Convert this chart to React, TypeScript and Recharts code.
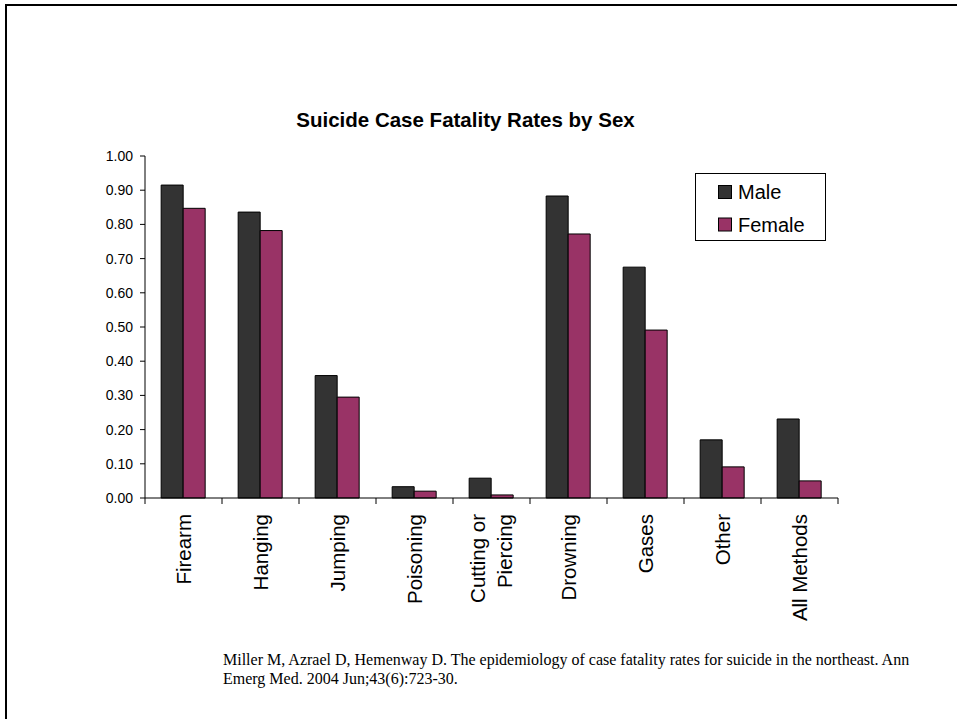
import React from 'react';
import { BarChart, Bar, XAxis, YAxis, Legend } from 'recharts';

const categories = [
  'Firearm',
  'Hanging',
  'Jumping',
  'Poisoning',
  'Cutting or\nPiercing',
  'Drowning',
  'Gases',
  'Other',
  'All Methods',
];
const maleRates = [0.915, 0.836, 0.358, 0.033, 0.058, 0.883, 0.675, 0.17, 0.231];
const femaleRates = [0.847, 0.782, 0.295, 0.02, 0.009, 0.772, 0.491, 0.091, 0.05];
const yTicks = [0, 0.1, 0.2, 0.3, 0.4, 0.5, 0.6, 0.7, 0.8, 0.9, 1.0];
const seriesNames = ['Male', 'Female'];
const title = 'Suicide Case Fatality Rates by Sex';
const citationLines = [
  'Miller M, Azrael D, Hemenway D. The epidemiology of case fatality rates for suicide in the northeast. Ann',
  'Emerg Med. 2004 Jun;43(6):723-30.',
];

const data = categories.map((c, i) => ({
  category: c,
  male: maleRates[i],
  female: femaleRates[i],
}));

const SANS = '"Liberation Sans", Arial, Helvetica, sans-serif';
const SERIF = '"Liberation Serif", "Times New Roman", serif';

const XTick = (props: any) => {
  const { x, y, payload, index } = props;
  const half = payload && payload.offset > 0 ? payload.offset : 38.5;
  const lines = String(payload.value).split('\n');
  const n = lines.length;
  return (
    <g>
      <line x1={x - half} y1={y} x2={x - half} y2={y + 6} stroke="#000" strokeWidth={1} />
      {index === categories.length - 1 && (
        <line x1={x + half} y1={y} x2={x + half} y2={y + 6} stroke="#000" strokeWidth={1} />
      )}
      <text
        transform={`translate(${x},${y + 16}) rotate(-90)`}
        textAnchor="end"
        fontSize={20.5}
        fill="#000"
        fontFamily={SANS}
      >
        {lines.map((l, i) => (
          <tspan key={i} x={0} y={(i - (n - 1) / 2) * 27} dy="0.36em">
            {l}
          </tspan>
        ))}
      </text>
    </g>
  );
};

const renderLegend = (props: any) => {
  const payload = [...(props.payload || [])].sort(
    (a: any, b: any) => seriesNames.indexOf(a.value) - seriesNames.indexOf(b.value)
  );
  return (
    <svg width={131} height={69} style={{ display: 'block' }}>
      <rect x={0.5} y={0.5} width={130} height={67} fill="#fff" stroke="#000" strokeWidth={1} />
      {payload.map((p: any, i: number) => (
        <g key={i}>
          <rect
            x={23.5}
            y={12.5 + i * 32.5}
            width={13}
            height={13}
            fill={p.color}
            stroke="#000"
            strokeWidth={1}
          />
          <text x={43} y={25.5 + i * 33} fontSize={20} fill="#000" fontFamily={SANS}>
            {p.value}
          </text>
        </g>
      ))}
    </svg>
  );
};

export default function App() {
  return (
    <div
      style={{
        position: 'absolute',
        left: 0,
        top: 0,
        width: 957,
        height: 719,
        overflow: 'hidden',
        background: '#fff',
      }}
    >
      <div
        style={{
          position: 'absolute',
          left: 5,
          top: 4,
          width: 1200,
          height: 1200,
          borderLeft: '2px solid #000',
          borderTop: '2px solid #000',
        }}
      />
      <div style={{ position: 'absolute', left: 0, top: 0 }}>
        <BarChart
          width={957}
          height={719}
          data={data}
          margin={{ top: 156, right: 119, bottom: 101, left: 85 }}
          barCategoryGap="21%"
          barGap={0}
        >
          <XAxis
            dataKey="category"
            type="category"
            interval={0}
            height={120}
            tickLine={false}
            tickSize={0}
            tickMargin={0}
            axisLine={{ stroke: '#000', strokeWidth: 1 }}
            tick={<XTick />}
          />
          <YAxis
            type="number"
            domain={[0, 1]}
            ticks={yTicks}
            width={60}
            interval={0}
            tickSize={5}
            tickMargin={7}
            axisLine={{ stroke: '#000', strokeWidth: 1 }}
            tickLine={{ stroke: '#000', strokeWidth: 1 }}
            tickFormatter={(v: number) => v.toFixed(2)}
            tick={{ fontSize: 14, fill: '#000', fontFamily: SANS }}
          />
          <Legend
            layout="vertical"
            align="center"
            verticalAlign="middle"
            content={renderLegend}
            wrapperStyle={{ position: 'absolute', left: 695, top: 173, width: 131, height: 69 }}
          />
          <Bar
            dataKey="male"
            name={seriesNames[0]}
            fill="#333333"
            stroke="#000"
            strokeWidth={1}
            isAnimationActive={false}
          />
          <Bar
            dataKey="female"
            name={seriesNames[1]}
            fill="#993366"
            stroke="#000"
            strokeWidth={1}
            isAnimationActive={false}
          />
        </BarChart>
      </div>
      <svg
        width={957}
        height={719}
        style={{ position: 'absolute', left: 0, top: 0, pointerEvents: 'none' }}
      >
        <text
          x={465.5}
          y={127}
          textAnchor="middle"
          fontSize={20.5}
          fontWeight="bold"
          fill="#000"
          fontFamily={SANS}
        >
          {title}
        </text>
        {citationLines.map((l, i) => (
          <text key={i} x={223} y={665 + i * 19} fontSize={16} fill="#000" fontFamily={SERIF}>
            {l}
          </text>
        ))}
      </svg>
    </div>
  );
}
